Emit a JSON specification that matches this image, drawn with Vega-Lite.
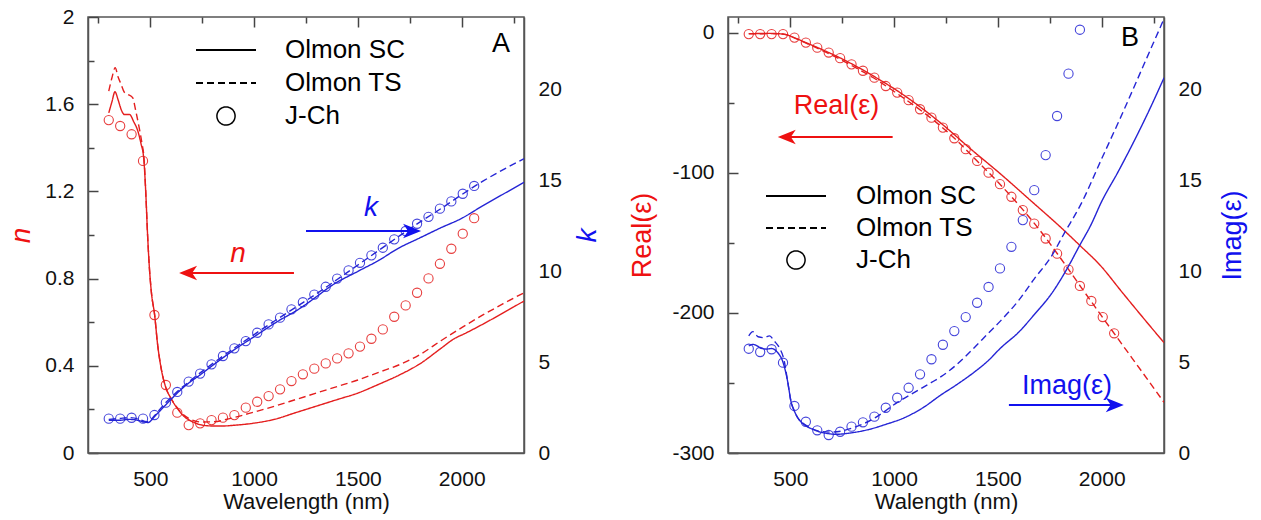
{
"$schema": "https://vega.github.io/schema/vega-lite/v6.json",
"background": "white",
"padding": {"left": 6, "top": 5, "right": 5, "bottom": 5},
"bounds": "flush",
"spacing": 204,
"config": {
  "font": "Liberation Sans",
  "view": {"stroke": "#555", "strokeWidth": 1.5},
  "axis": {"zindex": 1, "domainColor": "#555", "domainWidth": 1.5, "ticks": false, "tickSize": 0,
    "grid": true, "gridColor": "#444", "gridWidth": 1.5, "gridOpacity": 1,
    "labelFont": "Liberation Sans", "labelFontSize": 21, "labelColor": "#111", "labelPadding": 14,
    "titleFont": "Liberation Sans", "titleFontWeight": "normal", "titleColor": "#111"}
},
"datasets": {
  "n": [
    {"s":"SC","wl":300,"v":1.56},{"s":"SC","wl":315,"v":1.61},{"s":"SC","wl":330,"v":1.657},{"s":"SC","wl":345,"v":1.62},{"s":"SC","wl":360,"v":1.575},{"s":"SC","wl":375,"v":1.553},{"s":"SC","wl":400,"v":1.553},{"s":"SC","wl":420,"v":1.52},{"s":"SC","wl":440,"v":1.477},{"s":"SC","wl":455,"v":1.42},{"s":"SC","wl":468,"v":1.355},{"s":"SC","wl":478,"v":1.2},{"s":"SC","wl":487,"v":1.0},{"s":"SC","wl":495,"v":0.86},{"s":"SC","wl":505,"v":0.74},{"s":"SC","wl":521,"v":0.633},{"s":"SC","wl":535,"v":0.5},{"s":"SC","wl":552,"v":0.39},{"s":"SC","wl":575,"v":0.3},{"s":"SC","wl":600,"v":0.25},{"s":"SC","wl":630,"v":0.205},{"s":"SC","wl":660,"v":0.17},{"s":"SC","wl":700,"v":0.145},{"s":"SC","wl":750,"v":0.128},{"s":"SC","wl":800,"v":0.124},{"s":"SC","wl":850,"v":0.124},{"s":"SC","wl":900,"v":0.127},{"s":"SC","wl":1000,"v":0.137},{"s":"SC","wl":1100,"v":0.155},{"s":"SC","wl":1200,"v":0.185},{"s":"SC","wl":1300,"v":0.215},{"s":"SC","wl":1400,"v":0.245},{"s":"SC","wl":1500,"v":0.275},{"s":"SC","wl":1600,"v":0.315},{"s":"SC","wl":1700,"v":0.358},{"s":"SC","wl":1800,"v":0.41},{"s":"SC","wl":1900,"v":0.48},{"s":"SC","wl":1965,"v":0.525},{"s":"SC","wl":2013,"v":0.547},{"s":"SC","wl":2100,"v":0.59},{"s":"SC","wl":2200,"v":0.643},{"s":"SC","wl":2300,"v":0.697},
    {"s":"TS","wl":300,"v":1.66},{"s":"TS","wl":315,"v":1.72},{"s":"TS","wl":331,"v":1.767},{"s":"TS","wl":345,"v":1.725},{"s":"TS","wl":360,"v":1.69},{"s":"TS","wl":375,"v":1.655},{"s":"TS","wl":392,"v":1.645},{"s":"TS","wl":415,"v":1.63},{"s":"TS","wl":430,"v":1.57},{"s":"TS","wl":447,"v":1.49},{"s":"TS","wl":460,"v":1.42},{"s":"TS","wl":470,"v":1.35},{"s":"TS","wl":478,"v":1.2},{"s":"TS","wl":487,"v":1.0},{"s":"TS","wl":495,"v":0.86},{"s":"TS","wl":505,"v":0.74},{"s":"TS","wl":521,"v":0.633},{"s":"TS","wl":535,"v":0.5},{"s":"TS","wl":552,"v":0.39},{"s":"TS","wl":575,"v":0.3},{"s":"TS","wl":600,"v":0.25},{"s":"TS","wl":630,"v":0.207},{"s":"TS","wl":660,"v":0.175},{"s":"TS","wl":700,"v":0.152},{"s":"TS","wl":750,"v":0.142},{"s":"TS","wl":800,"v":0.143},{"s":"TS","wl":900,"v":0.162},{"s":"TS","wl":1000,"v":0.188},{"s":"TS","wl":1100,"v":0.215},{"s":"TS","wl":1200,"v":0.245},{"s":"TS","wl":1300,"v":0.275},{"s":"TS","wl":1400,"v":0.305},{"s":"TS","wl":1500,"v":0.335},{"s":"TS","wl":1600,"v":0.37},{"s":"TS","wl":1700,"v":0.405},{"s":"TS","wl":1800,"v":0.452},{"s":"TS","wl":1900,"v":0.515},{"s":"TS","wl":2000,"v":0.575},{"s":"TS","wl":2100,"v":0.632},{"s":"TS","wl":2200,"v":0.685},{"s":"TS","wl":2300,"v":0.735},
    {"s":"JC","wl":300,"v":1.527},{"s":"JC","wl":355,"v":1.5},{"s":"JC","wl":410,"v":1.462},{"s":"JC","wl":465,"v":1.34},{"s":"JC","wl":520,"v":0.633},{"s":"JC","wl":575,"v":0.312},{"s":"JC","wl":630,"v":0.185},{"s":"JC","wl":685,"v":0.128},{"s":"JC","wl":740,"v":0.136},{"s":"JC","wl":795,"v":0.151},{"s":"JC","wl":850,"v":0.162},{"s":"JC","wl":905,"v":0.174},{"s":"JC","wl":960,"v":0.208},{"s":"JC","wl":1015,"v":0.235},{"s":"JC","wl":1070,"v":0.261},{"s":"JC","wl":1125,"v":0.292},{"s":"JC","wl":1180,"v":0.33},{"s":"JC","wl":1235,"v":0.361},{"s":"JC","wl":1290,"v":0.387},{"s":"JC","wl":1345,"v":0.411},{"s":"JC","wl":1400,"v":0.434},{"s":"JC","wl":1455,"v":0.457},{"s":"JC","wl":1510,"v":0.488},{"s":"JC","wl":1565,"v":0.524},{"s":"JC","wl":1620,"v":0.567},{"s":"JC","wl":1675,"v":0.625},{"s":"JC","wl":1730,"v":0.677},{"s":"JC","wl":1785,"v":0.735},{"s":"JC","wl":1840,"v":0.801},{"s":"JC","wl":1895,"v":0.868},{"s":"JC","wl":1950,"v":0.937},{"s":"JC","wl":2005,"v":1.006},{"s":"JC","wl":2060,"v":1.077}
  ],
  "k": [
    {"s":"SC","wl":300,"v":1.8},{"s":"SC","wl":350,"v":1.8},{"s":"SC","wl":400,"v":1.85},{"s":"SC","wl":440,"v":1.8},{"s":"SC","wl":470,"v":1.7},{"s":"SC","wl":490,"v":1.68},{"s":"SC","wl":505,"v":1.8},{"s":"SC","wl":520,"v":2.0},{"s":"SC","wl":545,"v":2.3},{"s":"SC","wl":570,"v":2.6},{"s":"SC","wl":600,"v":2.95},{"s":"SC","wl":630,"v":3.3},{"s":"SC","wl":685,"v":3.85},{"s":"SC","wl":740,"v":4.3},{"s":"SC","wl":800,"v":4.82},{"s":"SC","wl":900,"v":5.65},{"s":"SC","wl":1000,"v":6.4},{"s":"SC","wl":1100,"v":7.15},{"s":"SC","wl":1226,"v":8.0},{"s":"SC","wl":1300,"v":8.6},{"s":"SC","wl":1370,"v":9.19},{"s":"SC","wl":1500,"v":10.0},{"s":"SC","wl":1600,"v":10.6},{"s":"SC","wl":1692,"v":11.25},{"s":"SC","wl":1800,"v":11.85},{"s":"SC","wl":1900,"v":12.4},{"s":"SC","wl":1997,"v":12.9},{"s":"SC","wl":2100,"v":13.6},{"s":"SC","wl":2200,"v":14.25},{"s":"SC","wl":2300,"v":14.9},
    {"s":"TS","wl":300,"v":1.85},{"s":"TS","wl":350,"v":1.9},{"s":"TS","wl":400,"v":1.95},{"s":"TS","wl":440,"v":1.88},{"s":"TS","wl":470,"v":1.75},{"s":"TS","wl":490,"v":1.72},{"s":"TS","wl":505,"v":1.85},{"s":"TS","wl":520,"v":2.05},{"s":"TS","wl":575,"v":2.78},{"s":"TS","wl":630,"v":3.38},{"s":"TS","wl":700,"v":4.05},{"s":"TS","wl":800,"v":4.92},{"s":"TS","wl":900,"v":5.74},{"s":"TS","wl":1000,"v":6.52},{"s":"TS","wl":1100,"v":7.28},{"s":"TS","wl":1200,"v":8.02},{"s":"TS","wl":1300,"v":8.76},{"s":"TS","wl":1400,"v":9.55},{"s":"TS","wl":1500,"v":10.35},{"s":"TS","wl":1600,"v":11.15},{"s":"TS","wl":1700,"v":11.95},{"s":"TS","wl":1800,"v":12.72},{"s":"TS","wl":1900,"v":13.45},{"s":"TS","wl":2000,"v":14.22},{"s":"TS","wl":2100,"v":14.95},{"s":"TS","wl":2200,"v":15.6},{"s":"TS","wl":2300,"v":16.2},
    {"s":"JC","wl":300,"v":1.89},{"s":"JC","wl":355,"v":1.89},{"s":"JC","wl":410,"v":1.94},{"s":"JC","wl":465,"v":1.89},{"s":"JC","wl":520,"v":2.09},{"s":"JC","wl":575,"v":2.77},{"s":"JC","wl":630,"v":3.36},{"s":"JC","wl":685,"v":3.93},{"s":"JC","wl":740,"v":4.37},{"s":"JC","wl":795,"v":4.88},{"s":"JC","wl":850,"v":5.34},{"s":"JC","wl":905,"v":5.76},{"s":"JC","wl":960,"v":6.16},{"s":"JC","wl":1015,"v":6.62},{"s":"JC","wl":1070,"v":7.08},{"s":"JC","wl":1125,"v":7.45},{"s":"JC","wl":1180,"v":7.91},{"s":"JC","wl":1235,"v":8.3},{"s":"JC","wl":1290,"v":8.72},{"s":"JC","wl":1345,"v":9.15},{"s":"JC","wl":1400,"v":9.6},{"s":"JC","wl":1455,"v":10.05},{"s":"JC","wl":1510,"v":10.47},{"s":"JC","wl":1565,"v":10.88},{"s":"JC","wl":1620,"v":11.3},{"s":"JC","wl":1675,"v":11.76},{"s":"JC","wl":1730,"v":12.22},{"s":"JC","wl":1785,"v":12.62},{"s":"JC","wl":1840,"v":13.0},{"s":"JC","wl":1895,"v":13.45},{"s":"JC","wl":1950,"v":13.85},{"s":"JC","wl":2005,"v":14.27},{"s":"JC","wl":2060,"v":14.7}
  ],
  "re": [
    {"s":"SC","wl":300,"v":-0.5},{"s":"SC","wl":350,"v":-0.4},{"s":"SC","wl":400,"v":-0.3},{"s":"SC","wl":450,"v":-0.6},{"s":"SC","wl":480,"v":-1.2},{"s":"SC","wl":500,"v":-2.2},{"s":"SC","wl":520,"v":-3.5},{"s":"SC","wl":550,"v":-5.3},{"s":"SC","wl":580,"v":-7.2},{"s":"SC","wl":640,"v":-11},{"s":"SC","wl":700,"v":-15},{"s":"SC","wl":760,"v":-19.3},{"s":"SC","wl":820,"v":-24},{"s":"SC","wl":880,"v":-29},{"s":"SC","wl":940,"v":-34.3},{"s":"SC","wl":1000,"v":-39.8},{"s":"SC","wl":1100,"v":-50},{"s":"SC","wl":1226,"v":-64.5},{"s":"SC","wl":1370,"v":-83},{"s":"SC","wl":1515,"v":-101},{"s":"SC","wl":1660,"v":-120},{"s":"SC","wl":1804,"v":-139},{"s":"SC","wl":1900,"v":-152.5},{"s":"SC","wl":1990,"v":-165.5},{"s":"SC","wl":2100,"v":-185.5},{"s":"SC","wl":2200,"v":-203.5},{"s":"SC","wl":2300,"v":-221.2},
    {"s":"TS","wl":300,"v":-0.6},{"s":"TS","wl":400,"v":-0.5},{"s":"TS","wl":470,"v":-0.9},{"s":"TS","wl":520,"v":-3.5},{"s":"TS","wl":576,"v":-7.2},{"s":"TS","wl":632,"v":-11},{"s":"TS","wl":685,"v":-14.7},{"s":"TS","wl":740,"v":-18.8},{"s":"TS","wl":800,"v":-23.6},{"s":"TS","wl":900,"v":-32},{"s":"TS","wl":1000,"v":-41.8},{"s":"TS","wl":1100,"v":-52.2},{"s":"TS","wl":1200,"v":-63.5},{"s":"TS","wl":1300,"v":-76.5},{"s":"TS","wl":1400,"v":-91.5},{"s":"TS","wl":1500,"v":-106.5},{"s":"TS","wl":1600,"v":-122.8},{"s":"TS","wl":1700,"v":-140.5},{"s":"TS","wl":1800,"v":-160.5},{"s":"TS","wl":1900,"v":-181.5},{"s":"TS","wl":2000,"v":-202.3},{"s":"TS","wl":2100,"v":-222.8},{"s":"TS","wl":2200,"v":-243.2},{"s":"TS","wl":2300,"v":-263.8},
    {"s":"JC","wl":300,"v":-0.8},{"s":"JC","wl":355,"v":-0.8},{"s":"JC","wl":410,"v":-0.8},{"s":"JC","wl":465,"v":-0.8},{"s":"JC","wl":520,"v":-3.3},{"s":"JC","wl":575,"v":-6.9},{"s":"JC","wl":630,"v":-10.5},{"s":"JC","wl":685,"v":-14},{"s":"JC","wl":740,"v":-18},{"s":"JC","wl":795,"v":-22.4},{"s":"JC","wl":850,"v":-27},{"s":"JC","wl":905,"v":-31.9},{"s":"JC","wl":960,"v":-37.9},{"s":"JC","wl":1015,"v":-42.6},{"s":"JC","wl":1070,"v":-48},{"s":"JC","wl":1125,"v":-54.5},{"s":"JC","wl":1180,"v":-60.5},{"s":"JC","wl":1235,"v":-67.6},{"s":"JC","wl":1290,"v":-75.2},{"s":"JC","wl":1345,"v":-83},{"s":"JC","wl":1400,"v":-91.4},{"s":"JC","wl":1455,"v":-99.8},{"s":"JC","wl":1510,"v":-108},{"s":"JC","wl":1565,"v":-117},{"s":"JC","wl":1620,"v":-126.5},{"s":"JC","wl":1675,"v":-136.2},{"s":"JC","wl":1730,"v":-146.8},{"s":"JC","wl":1785,"v":-157.6},{"s":"JC","wl":1840,"v":-169},{"s":"JC","wl":1895,"v":-180.7},{"s":"JC","wl":1950,"v":-191.4},{"s":"JC","wl":2005,"v":-202.9},{"s":"JC","wl":2060,"v":-214.5}
  ],
  "im": [
    {"s":"SC","wl":300,"v":5.89},{"s":"SC","wl":320,"v":5.98},{"s":"SC","wl":340,"v":5.9},{"s":"SC","wl":360,"v":5.76},{"s":"SC","wl":385,"v":5.72},{"s":"SC","wl":410,"v":5.75},{"s":"SC","wl":440,"v":5.52},{"s":"SC","wl":463,"v":5.06},{"s":"SC","wl":487,"v":3.96},{"s":"SC","wl":503,"v":2.86},{"s":"SC","wl":520,"v":2.3},{"s":"SC","wl":536,"v":1.94},{"s":"SC","wl":555,"v":1.68},{"s":"SC","wl":576,"v":1.49},{"s":"SC","wl":610,"v":1.3},{"s":"SC","wl":640,"v":1.17},{"s":"SC","wl":680,"v":1.07},{"s":"SC","wl":720,"v":1.03},{"s":"SC","wl":800,"v":1.12},{"s":"SC","wl":880,"v":1.3},{"s":"SC","wl":961,"v":1.58},{"s":"SC","wl":1049,"v":1.94},{"s":"SC","wl":1140,"v":2.5},{"s":"SC","wl":1226,"v":3.2},{"s":"SC","wl":1300,"v":3.75},{"s":"SC","wl":1386,"v":4.45},{"s":"SC","wl":1450,"v":5.05},{"s":"SC","wl":1515,"v":5.8},{"s":"SC","wl":1600,"v":6.65},{"s":"SC","wl":1676,"v":7.63},{"s":"SC","wl":1760,"v":8.8},{"s":"SC","wl":1836,"v":10.2},{"s":"SC","wl":1892,"v":11.39},{"s":"SC","wl":1950,"v":12.6},{"s":"SC","wl":1997,"v":13.78},{"s":"SC","wl":2080,"v":15.5},{"s":"SC","wl":2156,"v":17.17},{"s":"SC","wl":2230,"v":18.9},{"s":"SC","wl":2300,"v":20.65},
    {"s":"TS","wl":300,"v":6.45},{"s":"TS","wl":320,"v":6.68},{"s":"TS","wl":345,"v":6.4},{"s":"TS","wl":375,"v":6.35},{"s":"TS","wl":400,"v":6.45},{"s":"TS","wl":423,"v":6.16},{"s":"TS","wl":447,"v":5.8},{"s":"TS","wl":471,"v":5.06},{"s":"TS","wl":487,"v":3.96},{"s":"TS","wl":503,"v":2.86},{"s":"TS","wl":520,"v":2.3},{"s":"TS","wl":536,"v":1.94},{"s":"TS","wl":576,"v":1.52},{"s":"TS","wl":640,"v":1.2},{"s":"TS","wl":700,"v":1.15},{"s":"TS","wl":800,"v":1.38},{"s":"TS","wl":900,"v":1.88},{"s":"TS","wl":1018,"v":2.8},{"s":"TS","wl":1100,"v":3.35},{"s":"TS","wl":1178,"v":3.87},{"s":"TS","wl":1226,"v":4.2},{"s":"TS","wl":1300,"v":4.85},{"s":"TS","wl":1386,"v":5.8},{"s":"TS","wl":1450,"v":6.55},{"s":"TS","wl":1515,"v":7.3},{"s":"TS","wl":1600,"v":8.4},{"s":"TS","wl":1676,"v":9.6},{"s":"TS","wl":1756,"v":10.8},{"s":"TS","wl":1820,"v":12.1},{"s":"TS","wl":1900,"v":13.7},{"s":"TS","wl":2000,"v":16.2},{"s":"TS","wl":2100,"v":18.7},{"s":"TS","wl":2200,"v":21.3},{"s":"TS","wl":2300,"v":23.9},
    {"s":"JC","wl":300,"v":5.74},{"s":"JC","wl":355,"v":5.56},{"s":"JC","wl":410,"v":5.71},{"s":"JC","wl":465,"v":4.97},{"s":"JC","wl":520,"v":2.59},{"s":"JC","wl":575,"v":1.72},{"s":"JC","wl":630,"v":1.25},{"s":"JC","wl":685,"v":0.99},{"s":"JC","wl":740,"v":1.17},{"s":"JC","wl":795,"v":1.45},{"s":"JC","wl":850,"v":1.69},{"s":"JC","wl":905,"v":2.0},{"s":"JC","wl":960,"v":2.49},{"s":"JC","wl":1015,"v":3.04},{"s":"JC","wl":1070,"v":3.59},{"s":"JC","wl":1125,"v":4.33},{"s":"JC","wl":1180,"v":5.16},{"s":"JC","wl":1235,"v":5.96},{"s":"JC","wl":1290,"v":6.71},{"s":"JC","wl":1345,"v":7.48},{"s":"JC","wl":1400,"v":8.27},{"s":"JC","wl":1455,"v":9.14},{"s":"JC","wl":1510,"v":10.16},{"s":"JC","wl":1565,"v":11.35},{"s":"JC","wl":1620,"v":12.82},{"s":"JC","wl":1675,"v":14.47},{"s":"JC","wl":1730,"v":16.4},{"s":"JC","wl":1785,"v":18.55},{"s":"JC","wl":1840,"v":20.88},{"s":"JC","wl":1895,"v":23.3}
  ]
},
"resolve": {"scale": {"strokeDash": "independent", "shape": "independent"}, "legend": {"strokeDash": "independent", "shape": "independent"}},
"hconcat": [
{
  "width": 436, "height": 436,
  "resolve": {"scale": {"y": "independent"}},
  "layer": [
    {"layer": [
      {"data": {"name": "n"}, "transform": [{"filter": "datum.s !== 'JC'"}],
       "mark": {"type": "line", "color": "#e41e1e", "strokeWidth": 1.4, "interpolate": "monotone", "clip": true},
       "encoding": {
         "x": {"field": "wl", "type": "quantitative", "scale": {"domain": [200, 2300], "nice": false, "zero": false},
               "axis": {"title": "Wavelength (nm)", "values": [250,500,750,1000,1250,1500,1750,2000,2250],
                        "labelExpr": "datum.value % 500 === 0 ? toString(datum.value) : ''",
                        "gridDash": {"condition": {"test": "datum.value % 500 === 0", "value": [10, 3000]}, "value": [6, 3000]},
                        "labelPadding": 15, "labelFlush": false, "labelOverlap": false,
                        "titleFontSize": 22, "titleBaseline": "middle", "titleY": 48}},
         "y": {"field": "v", "type": "quantitative", "scale": {"domain": [0, 2], "nice": false, "zero": false},
               "axis": {"title": "n", "orient": "left", "values": [0,0.2,0.4,0.6,0.8,1,1.2,1.4,1.6,1.8,2],
                        "labelExpr": "round(datum.value*10) % 4 === 0 ? toString(round(datum.value*10)/10) : ''",
                        "gridDash": {"condition": {"test": "round(datum.value*10) % 4 === 0", "value": [10, 3000]}, "value": [6, 3000]},
                        "labelPadding": 14, "labelFlush": false, "labelOverlap": false,
                        "titleFontSize": 28, "titleFontStyle": "italic", "titleColor": "#ee1111",
                        "titleX": -67, "titleY": 218, "titleAngle": 270, "titleAlign": "center", "titleBaseline": "middle"}},
         "strokeDash": {"field": "s", "type": "nominal", "scale": {"domain": ["SC","TS","JC"], "range": [[1,0],[7,4],[1,0]]},
           "legend": {"title": null, "orient": "none", "legendX": 125, "legendY": 20, "padding": 0,
             "labelExpr": "datum.value === 'SC' ? 'Olmon SC' : datum.value === 'TS' ? 'Olmon TS' : 'J-Ch'",
             "symbolSize": 3600, "symbolStrokeWidth": 2, "symbolStrokeColor": "#000", "symbolFillColor": "transparent",
             "labelFont": "Liberation Sans", "labelFontSize": 26, "labelColor": "#000", "labelOffset": 46, "rowPadding": 7, "labelLimit": 400,
             "encode": {"symbols": {"update": {"size": {"signal": "datum.value === 'JC' ? 330 : 3600"}, "strokeWidth": {"signal": "datum.value === 'JC' ? 1.5 : 2"}, "stroke": {"value": "#000"}, "fill": {"value": "transparent"}, "opacity": {"value": 1}}}}}}
       }},
      {"data": {"name": "n"}, "transform": [{"filter": "datum.s === 'JC'"}],
       "mark": {"type": "point", "color": "#e41e1e", "filled": false, "size": 85, "strokeWidth": 1.1, "opacity": 0.85},
       "encoding": {
         "x": {"field": "wl", "type": "quantitative"},
         "y": {"field": "v", "type": "quantitative"},
         "shape": {"field": "s", "type": "nominal", "scale": {"domain": ["SC","TS","JC"], "range": ["stroke","stroke","circle"]},
           "legend": {"title": null, "orient": "none", "legendX": 125, "legendY": 20, "padding": 0,
             "labelExpr": "datum.value === 'SC' ? 'Olmon SC' : datum.value === 'TS' ? 'Olmon TS' : 'J-Ch'",
             "symbolSize": 3600, "symbolStrokeWidth": 2, "symbolStrokeColor": "#000", "symbolFillColor": "transparent",
             "labelFont": "Liberation Sans", "labelFontSize": 26, "labelColor": "#000", "labelOffset": 46, "rowPadding": 7, "labelLimit": 400,
             "encode": {"symbols": {"update": {"size": {"signal": "datum.value === 'JC' ? 330 : 3600"}, "strokeWidth": {"signal": "datum.value === 'JC' ? 1.5 : 2"}, "stroke": {"value": "#000"}, "fill": {"value": "transparent"}, "opacity": {"value": 1}}}}}}
       }},
      {"data": {"values": [{}]}, "mark": {"type": "rule", "color": "#ee1111", "strokeWidth": 2},
       "encoding": {"x": {"datum": 1192, "type": "quantitative"}, "x2": {"datum": 682}, "y": {"datum": 0.826, "type": "quantitative"}}},
      {"data": {"values": [{}]}, "mark": {"type": "point", "shape": "M -1 0 L 1 -0.8 L 0.45 0 L 1 0.8 Z", "filled": true, "color": "#ee1111", "size": 324, "opacity": 1, "strokeWidth": 0},
       "encoding": {"x": {"datum": 682, "type": "quantitative"}, "y": {"datum": 0.826, "type": "quantitative"}}},
      {"data": {"values": [{}]}, "mark": {"type": "text", "text": "n", "font": "Liberation Sans", "fontStyle": "italic", "fontSize": 28, "color": "#ee1111", "align": "center", "baseline": "middle"},
       "encoding": {"x": {"datum": 923, "type": "quantitative"}, "y": {"datum": 0.913, "type": "quantitative"}}},
      {"data": {"values": [{}]}, "mark": {"type": "text", "text": "A", "font": "Liberation Sans", "fontSize": 27, "color": "#000", "align": "center", "baseline": "middle"},
       "encoding": {"x": {"datum": 2189, "type": "quantitative"}, "y": {"datum": 1.876, "type": "quantitative"}}}
    ]},
    {"layer": [
      {"data": {"name": "k"}, "transform": [{"filter": "datum.s !== 'JC'"}],
       "mark": {"type": "line", "color": "#2525d5", "strokeWidth": 1.4, "interpolate": "monotone", "clip": true},
       "encoding": {
         "x": {"field": "wl", "type": "quantitative"},
         "y": {"field": "v", "type": "quantitative", "scale": {"domain": [0, 24], "nice": false, "zero": false},
               "axis": {"title": "k", "orient": "right", "values": [0,5,10,15,20], "gridDash": [10, 3000],
                        "labelPadding": 14, "labelFlush": false, "labelOverlap": false,
                        "titleFontSize": 28, "titleFontStyle": "italic", "titleColor": "#1111ee",
                        "titleX": 63, "titleY": 218, "titleAngle": 270, "titleAlign": "center", "titleBaseline": "middle"}},
         "strokeDash": {"field": "s", "type": "nominal", "legend": null}
       }},
      {"data": {"name": "k"}, "transform": [{"filter": "datum.s === 'JC'"}],
       "mark": {"type": "point", "color": "#2525d5", "filled": false, "size": 85, "strokeWidth": 1.1, "opacity": 0.85},
       "encoding": {
         "x": {"field": "wl", "type": "quantitative"},
         "y": {"field": "v", "type": "quantitative"},
         "shape": {"field": "s", "type": "nominal", "legend": null}
       }},
      {"data": {"values": [{}]}, "mark": {"type": "rule", "color": "#1111ee", "strokeWidth": 2},
       "encoding": {"x": {"datum": 1250, "type": "quantitative"}, "x2": {"datum": 1761}, "y": {"datum": 12.22, "type": "quantitative"}}},
      {"data": {"values": [{}]}, "mark": {"type": "point", "shape": "M 1 0 L -1 -0.8 L -0.45 0 L -1 0.8 Z", "filled": true, "color": "#1111ee", "size": 324, "opacity": 1, "strokeWidth": 0},
       "encoding": {"x": {"datum": 1761, "type": "quantitative"}, "y": {"datum": 12.22, "type": "quantitative"}}},
      {"data": {"values": [{}]}, "mark": {"type": "text", "text": "k", "font": "Liberation Sans", "fontStyle": "italic", "fontSize": 28, "color": "#1111ee", "align": "center", "baseline": "middle"},
       "encoding": {"x": {"datum": 1563, "type": "quantitative"}, "y": {"datum": 13.48, "type": "quantitative"}}}
    ]}
  ]
},
{
  "width": 436, "height": 436,
  "resolve": {"scale": {"y": "independent"}},
  "layer": [
    {"layer": [
      {"data": {"name": "re"}, "transform": [{"filter": "datum.s !== 'JC'"}],
       "mark": {"type": "line", "color": "#e41e1e", "strokeWidth": 1.4, "interpolate": "monotone", "clip": true},
       "encoding": {
         "x": {"field": "wl", "type": "quantitative", "scale": {"domain": [200, 2300], "nice": false, "zero": false},
               "axis": {"title": "Walength (nm)", "values": [250,500,750,1000,1250,1500,1750,2000,2250],
                        "labelExpr": "datum.value % 500 === 0 ? toString(datum.value) : ''",
                        "gridDash": {"condition": {"test": "datum.value % 500 === 0", "value": [10, 3000]}, "value": [6, 3000]},
                        "labelPadding": 15, "labelFlush": false, "labelOverlap": false,
                        "titleFontSize": 22, "titleBaseline": "middle", "titleY": 48}},
         "y": {"field": "v", "type": "quantitative", "scale": {"domain": [-300, 11.4], "nice": false, "zero": false},
               "axis": {"title": "Real(ε)", "orient": "left", "values": [-300,-250,-200,-150,-100,-50,0],
                        "labelExpr": "datum.value % 100 === 0 ? toString(datum.value) : ''",
                        "gridDash": {"condition": {"test": "datum.value % 100 === 0", "value": [10, 3000]}, "value": [6, 3000]},
                        "labelPadding": 14, "labelFlush": false, "labelOverlap": false,
                        "titleFontSize": 27, "titleColor": "#ee1111",
                        "titleX": -86, "titleY": 218, "titleAngle": 270, "titleAlign": "center", "titleBaseline": "middle"}},
         "strokeDash": {"field": "s", "type": "nominal", "scale": {"domain": ["SC","TS","JC"], "range": [[1,0],[7,4],[1,0]]},
           "legend": {"title": null, "orient": "none", "legendX": 55, "legendY": 166, "padding": 0,
             "labelExpr": "datum.value === 'SC' ? 'Olmon SC' : datum.value === 'TS' ? 'Olmon TS' : 'J-Ch'",
             "symbolSize": 3600, "symbolStrokeWidth": 2, "symbolStrokeColor": "#000", "symbolFillColor": "transparent",
             "labelFont": "Liberation Sans", "labelFontSize": 26, "labelColor": "#000", "labelOffset": 47, "rowPadding": 6, "labelLimit": 400,
             "encode": {"symbols": {"update": {"size": {"signal": "datum.value === 'JC' ? 330 : 3600"}, "strokeWidth": {"signal": "datum.value === 'JC' ? 1.5 : 2"}, "stroke": {"value": "#000"}, "fill": {"value": "transparent"}, "opacity": {"value": 1}}}}}}
       }},
      {"data": {"name": "re"}, "transform": [{"filter": "datum.s === 'JC'"}],
       "mark": {"type": "point", "color": "#e41e1e", "filled": false, "size": 85, "strokeWidth": 1.1, "opacity": 0.85},
       "encoding": {
         "x": {"field": "wl", "type": "quantitative"},
         "y": {"field": "v", "type": "quantitative"},
         "shape": {"field": "s", "type": "nominal", "scale": {"domain": ["SC","TS","JC"], "range": ["stroke","stroke","circle"]},
           "legend": {"title": null, "orient": "none", "legendX": 55, "legendY": 166, "padding": 0,
             "labelExpr": "datum.value === 'SC' ? 'Olmon SC' : datum.value === 'TS' ? 'Olmon TS' : 'J-Ch'",
             "symbolSize": 3600, "symbolStrokeWidth": 2, "symbolStrokeColor": "#000", "symbolFillColor": "transparent",
             "labelFont": "Liberation Sans", "labelFontSize": 26, "labelColor": "#000", "labelOffset": 47, "rowPadding": 6, "labelLimit": 400,
             "encode": {"symbols": {"update": {"size": {"signal": "datum.value === 'JC' ? 330 : 3600"}, "strokeWidth": {"signal": "datum.value === 'JC' ? 1.5 : 2"}, "stroke": {"value": "#000"}, "fill": {"value": "transparent"}, "opacity": {"value": 1}}}}}}
       }},
      {"data": {"values": [{}]}, "mark": {"type": "rule", "color": "#ee1111", "strokeWidth": 2},
       "encoding": {"x": {"datum": 993, "type": "quantitative"}, "x2": {"datum": 483}, "y": {"datum": -74.3, "type": "quantitative"}}},
      {"data": {"values": [{}]}, "mark": {"type": "point", "shape": "M -1 0 L 1 -0.8 L 0.45 0 L 1 0.8 Z", "filled": true, "color": "#ee1111", "size": 324, "opacity": 1, "strokeWidth": 0},
       "encoding": {"x": {"datum": 483, "type": "quantitative"}, "y": {"datum": -74.3, "type": "quantitative"}}},
      {"data": {"values": [{}]}, "mark": {"type": "text", "text": "Real(ε)", "font": "Liberation Sans", "fontSize": 27, "color": "#ee1111", "align": "center", "baseline": "middle"},
       "encoding": {"x": {"datum": 723, "type": "quantitative"}, "y": {"datum": -52.1, "type": "quantitative"}}},
      {"data": {"values": [{}]}, "mark": {"type": "text", "text": "B", "font": "Liberation Sans", "fontSize": 27, "color": "#000", "align": "center", "baseline": "middle"},
       "encoding": {"x": {"datum": 2136, "type": "quantitative"}, "y": {"datum": -3.6, "type": "quantitative"}}}
    ]},
    {"layer": [
      {"data": {"name": "im"}, "transform": [{"filter": "datum.s !== 'JC'"}],
       "mark": {"type": "line", "color": "#2525d5", "strokeWidth": 1.4, "interpolate": "monotone", "clip": true},
       "encoding": {
         "x": {"field": "wl", "type": "quantitative"},
         "y": {"field": "v", "type": "quantitative", "scale": {"domain": [0, 24], "nice": false, "zero": false},
               "axis": {"title": "Imag(ε)", "orient": "right", "values": [0,5,10,15,20], "gridDash": [10, 3000],
                        "labelPadding": 14, "labelFlush": false, "labelOverlap": false,
                        "titleFontSize": 27, "titleColor": "#1111ee",
                        "titleX": 68, "titleY": 218, "titleAngle": 270, "titleAlign": "center", "titleBaseline": "middle"}},
         "strokeDash": {"field": "s", "type": "nominal", "legend": null}
       }},
      {"data": {"name": "im"}, "transform": [{"filter": "datum.s === 'JC'"}],
       "mark": {"type": "point", "color": "#2525d5", "filled": false, "size": 85, "strokeWidth": 1.1, "opacity": 0.85},
       "encoding": {
         "x": {"field": "wl", "type": "quantitative"},
         "y": {"field": "v", "type": "quantitative"},
         "shape": {"field": "s", "type": "nominal", "legend": null}
       }},
      {"data": {"values": [{}]}, "mark": {"type": "rule", "color": "#1111ee", "strokeWidth": 2},
       "encoding": {"x": {"datum": 1553, "type": "quantitative"}, "x2": {"datum": 2063}, "y": {"datum": 2.64, "type": "quantitative"}}},
      {"data": {"values": [{}]}, "mark": {"type": "point", "shape": "M 1 0 L -1 -0.8 L -0.45 0 L -1 0.8 Z", "filled": true, "color": "#1111ee", "size": 324, "opacity": 1, "strokeWidth": 0},
       "encoding": {"x": {"datum": 2063, "type": "quantitative"}, "y": {"datum": 2.64, "type": "quantitative"}}},
      {"data": {"values": [{}]}, "mark": {"type": "text", "text": "Imag(ε)", "font": "Liberation Sans", "fontSize": 27, "color": "#1111ee", "align": "center", "baseline": "middle"},
       "encoding": {"x": {"datum": 1833, "type": "quantitative"}, "y": {"datum": 3.69, "type": "quantitative"}}}
    ]}
  ]
}
]
}
